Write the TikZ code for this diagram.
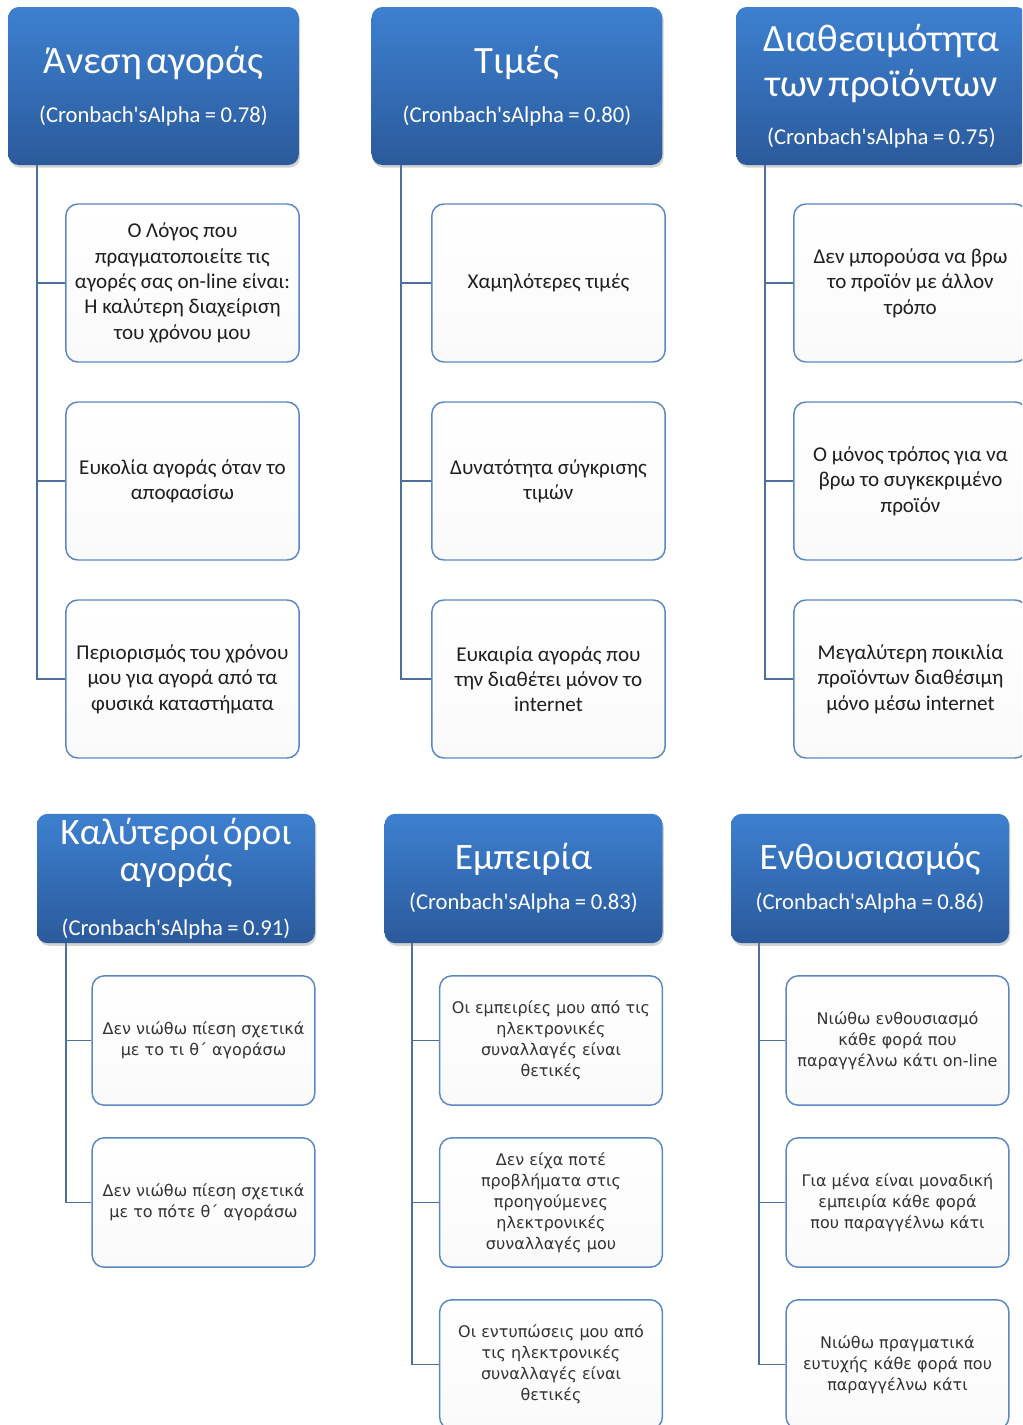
\documentclass[tikz,border=0pt]{standalone}
\usepackage{fontspec}
\setmainfont{Carlito}
\newfontfamily\lowfont{DejaVu Sans}
\usepackage{tikz}
\usetikzlibrary{shapes,arrows}
\usetikzlibrary{positioning}
\usetikzlibrary{shadows}
\definecolor{hdrtop}{HTML}{3D80D0}
\definecolor{hdrbot}{HTML}{2B5A9B}
\definecolor{boxline}{HTML}{5B87C2}
\definecolor{branchcol}{HTML}{4E6F9C}
\definecolor{itemtext}{HTML}{1E1E1E}
\newcommand{\hdrtext}[4][29]{{\fontsize{#1}{33}\selectfont #2\par}\vspace{#4}{\fontsize{17}{20}\selectfont (Cronbach\textquotesingle sAlpha = #3)\par}}
\tikzset{
    header/.style={rectangle, rounded corners=8pt, top color=hdrtop, bottom color=hdrbot,
        text=white, align=center, text width=214pt, inner sep=0pt,
        minimum width=218pt, minimum height=118.5pt,
        drop shadow={shadow xshift=1pt, shadow yshift=-2pt, opacity=0.35}},
    lowheader/.style={header, minimum width=208.5pt, minimum height=97pt, text width=205pt},
    item/.style={rectangle, rounded corners=9pt, draw=boxline, line width=1.1pt,
        top color=white, bottom color=black!2, text=itemtext, align=center,
        minimum width=175pt, minimum height=118.5pt,
        font=\fontsize{15.8}{19}\selectfont},
    lowitem/.style={item, minimum width=167pt, minimum height=97pt, text=black!80,
        font=\lowfont\fontsize{12}{15.75}\selectfont},
    branch/.style={draw=branchcol, line width=1.2pt},
}

\begin{document}
\begin{tikzpicture}[x=0.75pt, y=-0.75pt]
	\useasboundingbox (0,0) rectangle (1022,1425);
	\clip (0,0) rectangle (1022,1425);

	% upper row
	\coordinate (t1) at (37,165);
	\coordinate (t2) at (401,165);
	\coordinate (t3) at (765,165);

	\node[item] (a1) at (182.5,283) {Ο Λόγος που\\πραγματοποιείτε τις\\αγορές σας on-line είναι:\\Η καλύτερη διαχείριση\\του χρόνου μου};
	\node[item] (a2) at (182.5,481) {Ευκολία αγοράς όταν το\\αποφασίσω};
	\node[item] (a3) at (182.5,679) {Περιορισμός του χρόνου\\μου για αγορά από τα\\φυσικά καταστήματα};

	\node[item] (b1) at (548.5,283) {Χαμηλότερες τιμές};
	\node[item] (b2) at (548.5,481) {Δυνατότητα σύγκρισης\\τιμών};
	\node[item] (b3) at (548.5,679) {Ευκαιρία αγοράς που\\την διαθέτει μόνον το\\internet};

	\node[item] (c1) at (910.5,283) {Δεν μπορούσα να βρω\\το προϊόν με άλλον\\τρόπο};
	\node[item] (c2) at (910.5,481) {Ο μόνος τρόπος για να\\βρω το συγκεκριμένο\\προϊόν};
	\node[item] (c3) at (910.5,679) {Μεγαλύτερη ποικιλία\\προϊόντων διαθέσιμη\\μόνο μέσω internet};

	\draw[branch] (t1) |- (a1.west);
	\draw[branch] (t1) |- (a2.west);
	\draw[branch] (t1) |- (a3.west);
	\draw[branch] (t2) |- (b1.west);
	\draw[branch] (t2) |- (b2.west);
	\draw[branch] (t2) |- (b3.west);
	\draw[branch] (t3) |- (c1.west);
	\draw[branch] (t3) |- (c2.west);
	\draw[branch] (t3) |- (c3.west);

	\node[header] (ha) at (153.5,86) {\hdrtext{Άνεση αγοράς}{0.78}{17pt}};
	\node[header] (hb) at (517,86) {\hdrtext{Τιμές}{0.80}{17pt}};
	\node[header] (hc) at (881.5,86) {\hdrtext{Διαθεσιμότητα\\[1pt]των προϊόντων}{0.75}{16pt}};

	% lower row
	\coordinate (t4) at (66,943);
	\coordinate (t5) at (412,943);
	\coordinate (t6) at (759,943);

	\node[lowitem] (d1) at (203.5,1040.5) {Δεν νιώθω πίεση σχετικά\\με το τι θ΄ αγοράσω};
	\node[lowitem] (d2) at (203.5,1202.5) {Δεν νιώθω πίεση σχετικά\\με το πότε θ΄ αγοράσω};

	\node[lowitem] (e1) at (551,1040.5) {Οι εμπειρίες μου από τις\\ηλεκτρονικές\\συναλλαγές είναι\\θετικές};
	\node[lowitem] (e2) at (551,1202.5) {Δεν είχα ποτέ\\προβλήματα στις\\προηγούμενες\\ηλεκτρονικές\\συναλλαγές μου};
	\node[lowitem] (e3) at (551,1364.5) {Οι εντυπώσεις μου από\\τις ηλεκτρονικές\\συναλλαγές είναι\\θετικές};

	\node[lowitem] (f1) at (897.5,1040.5) {Νιώθω ενθουσιασμό\\κάθε φορά που\\παραγγέλνω κάτι on-line};
	\node[lowitem] (f2) at (897.5,1202.5) {Για μένα είναι μοναδική\\εμπειρία κάθε φορά\\που παραγγέλνω κάτι};
	\node[lowitem] (f3) at (897.5,1364.5) {Νιώθω πραγματικά\\ευτυχής κάθε φορά που\\παραγγέλνω κάτι};

	\draw[branch] (t4) |- (d1.west);
	\draw[branch] (t4) |- (d2.west);
	\draw[branch] (t5) |- (e1.west);
	\draw[branch] (t5) |- (e2.west);
	\draw[branch] (t5) |- (e3.west);
	\draw[branch] (t6) |- (f1.west);
	\draw[branch] (t6) |- (f2.west);
	\draw[branch] (t6) |- (f3.west);

	\node[lowheader] (hd) at (176,878.5) {\hdrtext[28]{Καλύτεροι όροι\\[-5pt]αγοράς}{0.91}{20pt}};
	\node[lowheader] (he) at (523.5,878.5) {\hdrtext[28]{Εμπειρία}{0.83}{10pt}};
	\node[lowheader] (hf) at (870,878.5) {\hdrtext[28]{Ενθουσιασμός}{0.86}{10pt}};
\end{tikzpicture}
\end{document}
